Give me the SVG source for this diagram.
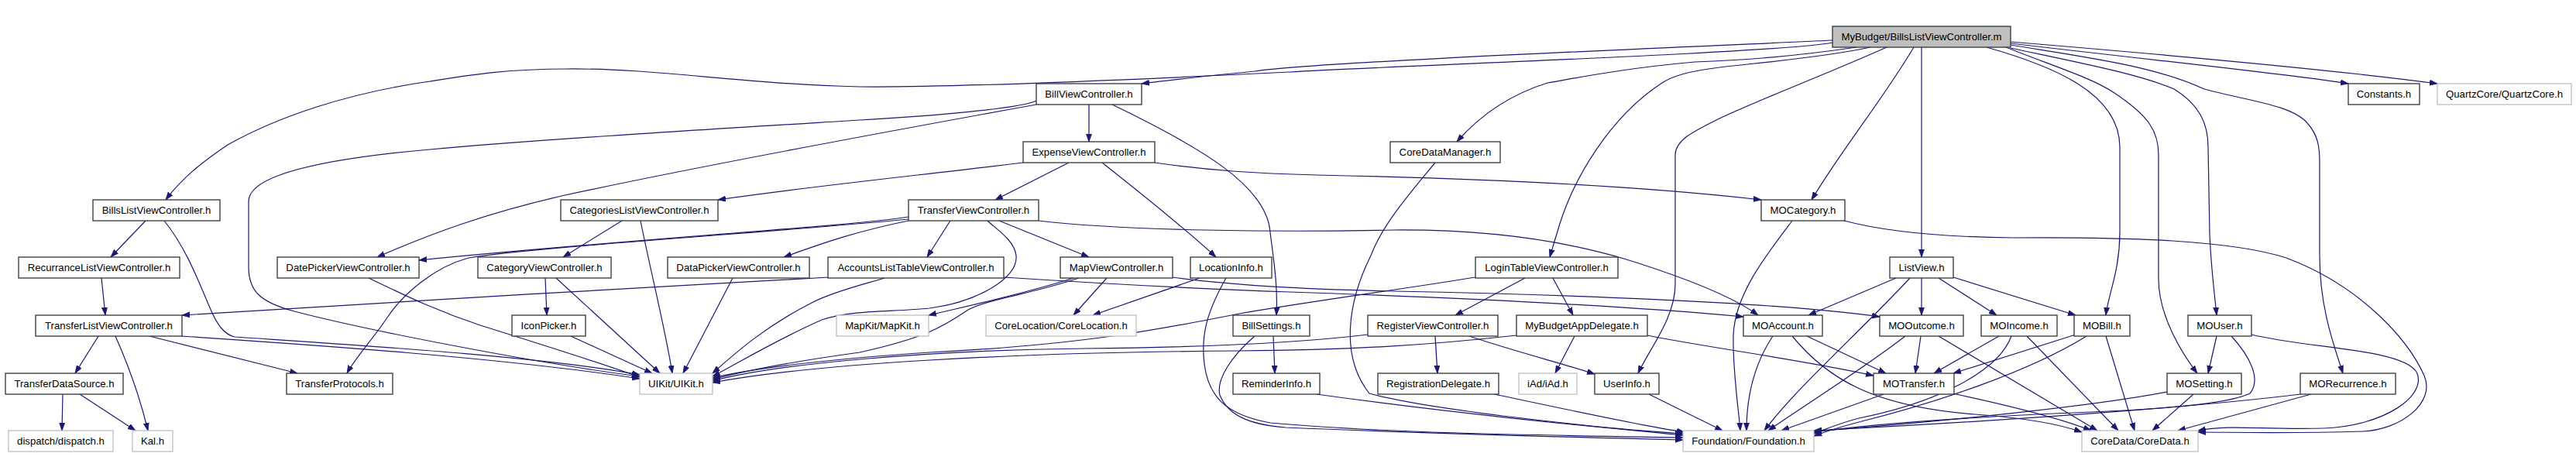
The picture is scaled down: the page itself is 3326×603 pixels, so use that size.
<svg xmlns="http://www.w3.org/2000/svg" width="3326" height="603" viewBox="0 0 3326 603">
<style>
.n rect{fill:#fff;stroke:#333;stroke-width:1.3}
.x rect{fill:#fff;stroke:#bfbfbf;stroke-width:1.3}
.r rect{fill:#bfbfbf;stroke:#333;stroke-width:1.3}
text{font-family:"Liberation Sans",Arial,sans-serif;font-size:13.2px;text-anchor:middle;fill:#000}
#edges path{fill:none;stroke:#191970;stroke-width:1.2;marker-end:url(#a)}
</style>
<defs>
<marker id="a" markerUnits="userSpaceOnUse" markerWidth="11" markerHeight="8" refX="10" refY="4" orient="auto" viewBox="0 0 11 8">
<path d="M0,0.5 L10,4 L0,7.5 z" fill="#191970" stroke="#191970" stroke-width="0.8"/>
</marker>
</defs>
<rect width="3326" height="603" fill="#fff"/>
<g id="edges">
<path d="M2366,55 C2300,68 1800,85 1665,93 C1400,106 1200,113 1110,112 C950,108 850,88 732,89 C650,89 600,98 555,105 C450,120 360,150 294,187 C260,210 235,230 214,258"/>
<path d="M2366,52 C2150,62 1700,80 1620,92 C1560,98 1520,102 1474,108"/>
<path d="M2397,61 C2300,75 2240,78 2188,80 C2100,88 2050,98 1998,107 C1950,122 1910,150 1881,183"/>
<path d="M2415,61 C2350,75 2260,82 2220,87 C2180,92 2160,98 2146,107 C2080,150 2030,230 2010,302 C2006,315 2003,325 2001,332"/>
<path d="M2436,61 C2360,95 2280,125 2220,153 C2190,168 2163,180 2163,200 L2163,367 C2163,410 2130,450 2115,482"/>
<path d="M2471,61 C2430,130 2380,190 2339,258"/>
<path d="M2481,61 L2481,332"/>
<path d="M2565,61 C2650,85 2737,120 2737,190 L2737,300 C2737,350 2722,380 2719,407"/>
<path d="M2590,61 C2650,85 2700,100 2730,120 C2775,150 2787,170 2787,200 L2787,360 C2787,410 2820,460 2837,482"/>
<path d="M2596,62 C2680,80 2760,95 2807,115 C2840,135 2851,160 2851,190 L2853,302 C2855,350 2860,385 2862,407"/>
<path d="M2596,58 C2700,75 2780,85 2846,115 C2900,130 2960,135 2980,160 C2993,175 2995,190 2995,210 L2995,330 C2995,400 3015,450 3025,482"/>
<path d="M2596,56 C2800,80 2950,95 3032,108"/>
<path d="M2596,54 C2850,75 3050,95 3147,108"/>
<path d="M1406,135 L1406,183"/>
<path d="M1436,135 C1550,190 1636,240 1640,300 C1645,340 1650,370 1648,407"/>
<path d="M1338,130 C1320,140 1200,150 1110,155 C900,168 700,180 555,193 C420,205 321,225 321,260 L321,345 C321,375 335,390 380,402 C480,428 700,470 826,486"/>
<path d="M1338,135 C1200,160 900,215 725,253 C630,275 560,300 487,332"/>
<path d="M1380,210 L1285,258"/>
<path d="M1321,210 C1200,225 1050,240 927,258"/>
<path d="M1423,210 C1480,255 1530,295 1570,332"/>
<path d="M1491,210 C1560,220 1620,224 1700,226 C1900,230 2100,238 2274,258"/>
<path d="M1227,285 L1197,332"/>
<path d="M1290,285 L1406,332"/>
<path d="M1275,285 C1285,295 1310,310 1312,330 C1315,360 1260,390 1200,398 C1150,403 1100,400 1061,413 C1000,440 960,465 920,486"/>
<path d="M1173,280 C1100,292 800,310 541,336"/>
<path d="M1173,283 C1000,300 700,318 605,333 C560,345 520,380 500,410 C480,440 460,460 448,482"/>
<path d="M1173,285 C1100,300 1060,315 1012,332"/>
<path d="M1341,285 C1450,298 1650,300 1800,297 C1950,296 2050,320 2100,335 C2180,360 2240,385 2270,407"/>
<path d="M803,285 L727,332"/>
<path d="M827,285 C840,350 860,430 868,482"/>
<path d="M2314,285 C2280,330 2240,380 2238,433 C2237,480 2245,530 2247,556"/>
<path d="M2381,285 C2430,298 2500,306 2600,307 C2750,306 2880,310 2952,333 C3050,370 3110,440 3130,485 C3145,520 3100,555 3050,557 C2950,560 2880,558 2838,558"/>
<path d="M188,285 L143,332"/>
<path d="M212,285 C240,320 255,360 270,395 C280,420 290,432 303,435 C450,445 700,460 826,484"/>
<path d="M131,359 L136,407"/>
<path d="M476,359 C520,380 560,400 620,420 C700,445 780,470 826,487"/>
<path d="M704,359 L706,407"/>
<path d="M718,359 L852,482"/>
<path d="M946,359 L882,482"/>
<path d="M1070,358 C800,373 500,390 235,407"/>
<path d="M1142,359 C1120,366 1080,375 1050,390 C990,420 950,455 920,482"/>
<path d="M1296,358 C1450,368 1550,373 1665,377 C1900,385 2100,395 2251,409"/>
<path d="M1386,359 C1320,380 1250,395 1199,407"/>
<path d="M1393,359 C1330,380 1280,385 1250,400 C1220,420 1200,435 1110,455 C1000,470 950,482 920,490"/>
<path d="M1429,359 L1386,407"/>
<path d="M1513,358 C1600,370 1700,374 1800,376 C2000,380 2300,390 2427,409"/>
<path d="M1549,359 L1411,407"/>
<path d="M1583,359 C1560,400 1550,430 1555,470 C1560,510 1580,535 1640,546 C1800,560 2000,562 2173,565"/>
<path d="M1644,434 L1646,482"/>
<path d="M1620,434 C1590,460 1570,490 1575,510 C1585,535 1610,548 1660,552 C1850,560 2050,565 2173,568"/>
<path d="M1700,509 C1850,530 2050,552 2173,560"/>
<path d="M1969,359 L1879,407"/>
<path d="M2005,359 L2031,407"/>
<path d="M1905,358 C1800,375 1700,388 1600,405 C1500,425 1400,445 1200,455 C1050,465 960,478 920,488"/>
<path d="M1853,434 L1856,482"/>
<path d="M1897,434 C1960,455 2020,470 2059,483"/>
<path d="M1766,432 C1700,440 1600,448 1400,450 C1200,452 1000,470 920,492"/>
<path d="M1958,433 C1850,445 1750,452 1600,453 C1300,455 1050,470 920,494"/>
<path d="M2033,434 L2008,482"/>
<path d="M2127,433 C2200,448 2330,465 2419,485"/>
<path d="M1929,509 C2030,530 2120,550 2175,558"/>
<path d="M2129,509 L2224,556"/>
<path d="M1853,210 C1820,250 1785,290 1770,330 C1740,390 1730,460 1768,508 C1850,530 2050,550 2173,562"/>
<path d="M2448,359 L2335,407"/>
<path d="M2466,359 C2400,430 2320,500 2278,556"/>
<path d="M2481,359 L2481,407"/>
<path d="M2503,359 L2578,407"/>
<path d="M2522,358 L2680,407"/>
<path d="M2289,434 C2265,470 2255,510 2255,556"/>
<path d="M2314,434 C2360,490 2420,525 2550,535 C2620,540 2660,548 2688,558"/>
<path d="M2333,434 L2435,482"/>
<path d="M2460,434 C2400,480 2320,530 2283,556"/>
<path d="M2480,434 L2473,482"/>
<path d="M2503,434 L2708,556"/>
<path d="M2581,434 L2497,482"/>
<path d="M2597,434 C2580,480 2500,520 2400,540 C2370,548 2355,555 2342,560"/>
<path d="M2617,434 L2735,556"/>
<path d="M2680,432 L2522,482"/>
<path d="M2694,434 C2620,480 2500,520 2400,545 C2370,553 2355,558 2342,563"/>
<path d="M2719,434 L2756,556"/>
<path d="M2432,509 L2300,556"/>
<path d="M2521,508 C2600,525 2660,540 2700,556"/>
<path d="M2862,434 L2851,482"/>
<path d="M2881,434 C2905,460 2920,490 2905,508 C2880,520 2800,528 2700,532 C2500,540 2400,550 2342,558"/>
<path d="M2907,432 C2980,450 3100,450 3120,480 C3135,510 3080,550 3000,553 C2920,555 2880,548 2838,556"/>
<path d="M2798,506 C2700,525 2500,545 2342,557"/>
<path d="M2832,509 L2779,556"/>
<path d="M2970,509 C2800,530 2500,548 2342,556"/>
<path d="M2984,509 L2812,556"/>
<path d="M127,434 L97,482"/>
<path d="M149,434 C165,470 180,510 191,556"/>
<path d="M193,434 L384,482"/>
<path d="M234,434 C400,445 650,462 826,489"/>
<path d="M81,509 L80,556"/>
<path d="M103,509 L175,556"/>
<path d="M737,434 L842,482"/>
</g>
<g id="root" class="r"><rect x="2366" y="34" width="230" height="27"/><text x="2481" y="52.3">MyBudget/BillsListViewController.m</text></g>
<g id="billvc" class="n"><rect x="1338" y="108" width="136" height="27"/><text x="1406" y="126.3">BillViewController.h</text></g>
<g id="constants" class="n"><rect x="3032" y="108" width="92" height="27"/><text x="3078" y="126.3">Constants.h</text></g>
<g id="quartz" class="x"><rect x="3147" y="108" width="173" height="27"/><text x="3233.5" y="126.3">QuartzCore/QuartzCore.h</text></g>
<g id="expense" class="n"><rect x="1321" y="183" width="170" height="27"/><text x="1406" y="201.3">ExpenseViewController.h</text></g>
<g id="cdm" class="n"><rect x="1795" y="183" width="142" height="27"/><text x="1866" y="201.3">CoreDataManager.h</text></g>
<g id="billslist" class="n"><rect x="120" y="258" width="164" height="27"/><text x="202" y="276.3">BillsListViewController.h</text></g>
<g id="catslist" class="n"><rect x="724" y="258" width="203" height="27"/><text x="825.5" y="276.3">CategoriesListViewController.h</text></g>
<g id="transfervc" class="n"><rect x="1173" y="258" width="168" height="27"/><text x="1257" y="276.3">TransferViewController.h</text></g>
<g id="mocat" class="n"><rect x="2274" y="258" width="108" height="27"/><text x="2328" y="276.3">MOCategory.h</text></g>
<g id="recurr" class="n"><rect x="24" y="332" width="208" height="27"/><text x="128" y="350.3">RecurranceListViewController.h</text></g>
<g id="datepicker" class="n"><rect x="358" y="332" width="183" height="27"/><text x="449.5" y="350.3">DatePickerViewController.h</text></g>
<g id="categoryvc" class="n"><rect x="617" y="332" width="172" height="27"/><text x="703" y="350.3">CategoryViewController.h</text></g>
<g id="datapicker" class="n"><rect x="862" y="332" width="183" height="27"/><text x="953.5" y="350.3">DataPickerViewController.h</text></g>
<g id="accounts" class="n"><rect x="1069" y="332" width="227" height="27"/><text x="1182.5" y="350.3">AccountsListTableViewController.h</text></g>
<g id="mapvc" class="n"><rect x="1369" y="332" width="145" height="27"/><text x="1441.5" y="350.3">MapViewController.h</text></g>
<g id="locinfo" class="n"><rect x="1537" y="332" width="105" height="27"/><text x="1589.5" y="350.3">LocationInfo.h</text></g>
<g id="login" class="n"><rect x="1905" y="332" width="184" height="27"/><text x="1997" y="350.3">LoginTableViewController.h</text></g>
<g id="listview" class="n"><rect x="2440" y="332" width="82" height="27"/><text x="2481" y="350.3">ListView.h</text></g>
<g id="translist" class="n"><rect x="46" y="407" width="189" height="27"/><text x="140.5" y="425.3">TransferListViewController.h</text></g>
<g id="iconpicker" class="n"><rect x="661" y="407" width="95" height="27"/><text x="708.5" y="425.3">IconPicker.h</text></g>
<g id="mapkit" class="x"><rect x="1080" y="407" width="119" height="27"/><text x="1139.5" y="425.3">MapKit/MapKit.h</text></g>
<g id="coreloc" class="x"><rect x="1273" y="407" width="194" height="27"/><text x="1370" y="425.3">CoreLocation/CoreLocation.h</text></g>
<g id="billsettings" class="n"><rect x="1592" y="407" width="99" height="27"/><text x="1641.5" y="425.3">BillSettings.h</text></g>
<g id="registervc" class="n"><rect x="1766" y="407" width="168" height="27"/><text x="1850" y="425.3">RegisterViewController.h</text></g>
<g id="appdelegate" class="n"><rect x="1958" y="407" width="169" height="27"/><text x="2042.5" y="425.3">MyBudgetAppDelegate.h</text></g>
<g id="moaccount" class="n"><rect x="2251" y="407" width="102" height="27"/><text x="2302" y="425.3">MOAccount.h</text></g>
<g id="mooutcome" class="n"><rect x="2427" y="407" width="108" height="27"/><text x="2481" y="425.3">MOOutcome.h</text></g>
<g id="moincome" class="n"><rect x="2558" y="407" width="98" height="27"/><text x="2607" y="425.3">MOIncome.h</text></g>
<g id="mobill" class="n"><rect x="2678" y="407" width="72" height="27"/><text x="2714" y="425.3">MOBill.h</text></g>
<g id="mouser" class="n"><rect x="2825" y="407" width="82" height="27"/><text x="2866" y="425.3">MOUser.h</text></g>
<g id="tds" class="n"><rect x="7" y="482" width="152" height="27"/><text x="83" y="500.3">TransferDataSource.h</text></g>
<g id="tprot" class="n"><rect x="370" y="482" width="137" height="27"/><text x="438.5" y="500.3">TransferProtocols.h</text></g>
<g id="uikit" class="x"><rect x="826" y="482" width="94" height="27"/><text x="873" y="500.3">UIKit/UIKit.h</text></g>
<g id="reminder" class="n"><rect x="1592" y="482" width="112" height="27"/><text x="1648" y="500.3">ReminderInfo.h</text></g>
<g id="regdel" class="n"><rect x="1779" y="482" width="156" height="27"/><text x="1857" y="500.3">RegistrationDelegate.h</text></g>
<g id="iad" class="x"><rect x="1961" y="482" width="75" height="27"/><text x="1998.5" y="500.3">iAd/iAd.h</text></g>
<g id="userinfo" class="n"><rect x="2059" y="482" width="83" height="27"/><text x="2100.5" y="500.3">UserInfo.h</text></g>
<g id="motransfer" class="n"><rect x="2419" y="482" width="104" height="27"/><text x="2471" y="500.3">MOTransfer.h</text></g>
<g id="mosetting" class="n"><rect x="2798" y="482" width="96" height="27"/><text x="2846" y="500.3">MOSetting.h</text></g>
<g id="morecur" class="n"><rect x="2970" y="482" width="123" height="27"/><text x="3031.5" y="500.3">MORecurrence.h</text></g>
<g id="dispatch" class="x"><rect x="11" y="556" width="135" height="27"/><text x="78.5" y="574.3">dispatch/dispatch.h</text></g>
<g id="kal" class="x"><rect x="171" y="556" width="52" height="27"/><text x="197" y="574.3">Kal.h</text></g>
<g id="foundation" class="x"><rect x="2173" y="556" width="169" height="27"/><text x="2257.5" y="574.3">Foundation/Foundation.h</text></g>
<g id="coredata" class="x"><rect x="2688" y="556" width="150" height="27"/><text x="2763" y="574.3">CoreData/CoreData.h</text></g>
</svg>
